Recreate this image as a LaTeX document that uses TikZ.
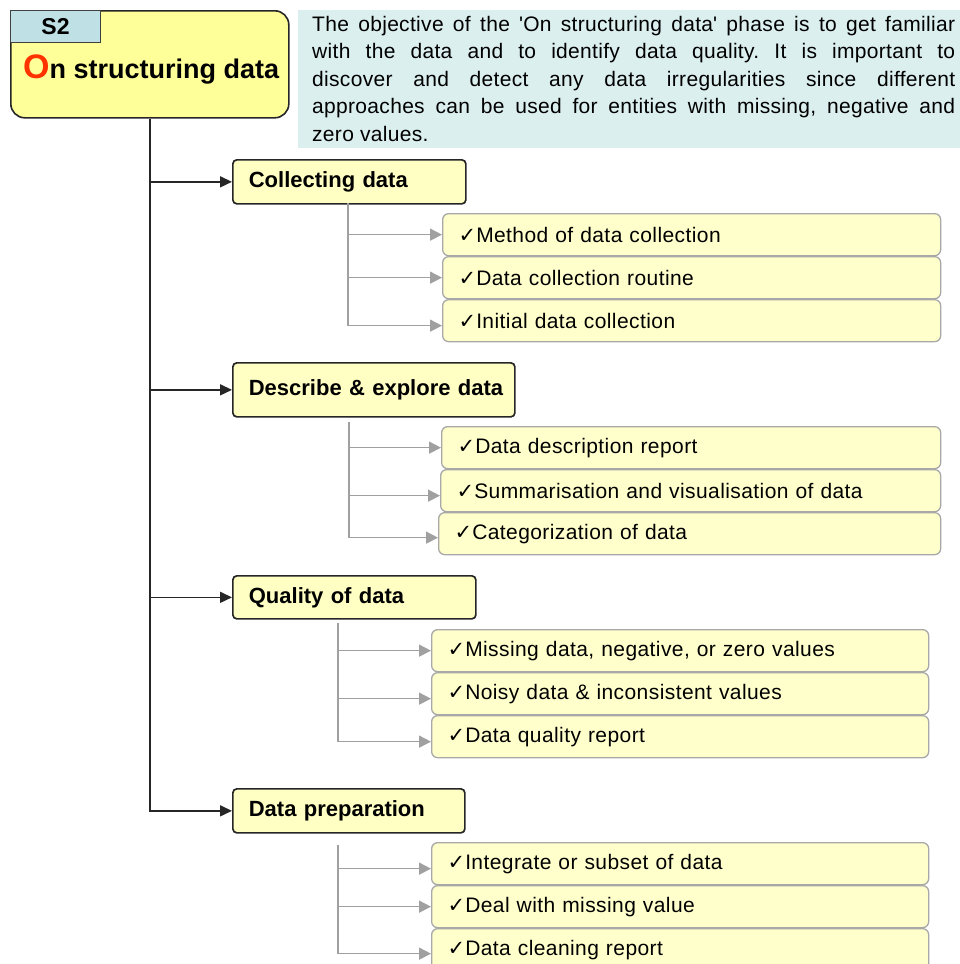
\documentclass[tikz,border=0pt]{standalone}
\usepackage{fontspec}
\setmainfont{Liberation Sans}
\newfontfamily\spacedfont[LetterSpace=2]{Liberation Sans}
\newfontfamily\descfont[LetterSpace=1.5]{Liberation Sans}
\newfontfamily\symfont{DejaVu Sans}
\usetikzlibrary{arrows.meta}

\definecolor{mainfill}{HTML}{FFFF99}
\definecolor{tabfill}{HTML}{BFE1E6}
\definecolor{descfill}{HTML}{DCEFEF}
\definecolor{stepfill}{HTML}{FFFFC4}
\definecolor{itemfill}{HTML}{FFFFCC}
\definecolor{itemline}{HTML}{A8A8A8}
\definecolor{linkgray}{HTML}{A0A0A0}
\definecolor{ored}{HTML}{FF3300}

\newcommand{\tick}{{\symfont\fontsize{21}{21}\selectfont ✓}}

\tikzset{
  mainbox/.style={draw=black!85, line width=1.6pt, fill=mainfill,
    rounded corners=14pt, anchor=north west, inner sep=0pt,
    minimum width=278pt, minimum height=107pt},
  tabbox/.style={draw=black!75, line width=1pt, fill=tabfill,
    anchor=north west, inner sep=0pt, minimum width=90pt, minimum height=32pt,
    font=\bfseries\fontsize{23}{23}\selectfont},
  stepbox/.style={draw=black!85, line width=1.7pt, fill=stepfill,
    rounded corners=4pt, anchor=north west, inner xsep=0pt, inner ysep=0pt,
    align=left, font=\bfseries\fontsize{22}{22}\selectfont},
  itembox/.style={draw=itemline, line width=1.3pt, fill=itemfill,
    rounded corners=6pt, anchor=north west, inner xsep=16pt, inner ysep=0pt,
    minimum height=42pt, align=left, font=\spacedfont\fontsize{21}{21}\selectfont},
  trunk/.style={draw=black!85, line width=1.8pt},
  branch/.style={draw=black!85, line width=1.6pt, -{Triangle[length=12pt,width=11pt]}},
  link/.style={draw=linkgray, line width=1.6pt, -{Triangle[length=12pt,width=12pt]}},
}

\begin{document}
\begin{tikzpicture}[x=1pt,y=-1pt]
\useasboundingbox (0,0) rectangle (960,964);

% phase header
\node[mainbox] (main) at (10,10) {};
\node[tabbox] (tab) at (10,10) {S2};
\node[anchor=base west, inner sep=0pt, font=\bfseries] (title) at (23,78)
  {\textcolor{ored}{\fontsize{34}{34}\selectfont O}\fontsize{27}{27}\selectfont n structuring data};

% phase description
\node[fill=descfill, anchor=north west, inner sep=0pt,
  minimum width=662pt, minimum height=138pt] (descbg) at (298,10) {};
\node[anchor=north west, inner sep=0pt, text width=643pt, align=justify,
  font=\descfont\fontsize{21}{27.5}\selectfont] (desc) at (312,16)
  {\frenchspacing The objective of the \textquotesingle On structuring data\textquotesingle\ phase is to get familiar\linebreak
   with the data and to identify data quality. It is important to\linebreak
   discover and detect any data irregularities since different\linebreak
   approaches can be used for entities with missing, negative and\linebreak
   zero values.};

% main steps
\node[stepbox, text width=233pt, minimum height=44pt] (col)  at (232,159) {\hspace*{16pt}Collecting data};
\node[stepbox, text width=282pt, minimum height=54pt] (desx) at (232,362) {\hspace*{16pt}Describe \& explore data};
\node[stepbox, text width=243pt, minimum height=43pt] (qual) at (232,575) {\hspace*{16pt}Quality of data};
\node[stepbox, text width=232pt, minimum height=44pt] (prep) at (232,788) {\hspace*{16pt}Data preparation};

% trunk and branches
\draw[trunk] (main.south) |- ([xshift=-10pt]prep.west);
\draw[branch] (main.south |- col.west) -- (col.west);
\draw[branch] (main.south |- desx.west) -- (desx.west);
\draw[branch] (main.south |- qual.west) -- (qual.west);
\draw[branch] (main.south |- prep.west) -- (prep.west);

% items: collecting data
\node[itembox, text width=466pt] (c1) at (442,213) {\tick Method of data collection};
\node[itembox, text width=466pt] (c2) at (442,256) {\tick Data collection routine};
\node[itembox, text width=466pt] (c3) at (442,299) {\tick Initial data collection};

% items: describe & explore
\node[itembox, text width=467pt] (d1) at (441,426) {\tick Data description report};
\node[itembox, text width=468pt] (d2) at (440,469) {\tick Summarisation and visualisation of data};
\node[itembox, text width=470pt] (d3) at (438,512) {\tick Categorization of data};

% items: quality
\node[itembox, text width=465pt] (q1) at (431,629) {\tick Missing data, negative, or zero values};
\node[itembox, text width=465pt] (q2) at (431,672) {\tick Noisy data \& inconsistent values};
\node[itembox, text width=465pt] (q3) at (431,715) {\tick Data quality report};

% items: preparation
\node[itembox, text width=465pt] (p1) at (431,842) {\tick Integrate or subset of data};
\node[itembox, text width=465pt] (p2) at (431,885) {\tick Deal with missing value};
\node[itembox, text width=465pt] (p3) at (431,928) {\tick Data cleaning report};

% item links
\coordinate (g1) at (348,203);
\coordinate (g2) at (349,422);
\coordinate (g3) at (338,623);
\coordinate (g4) at (338,845);

\draw[link] (g1) |- (c1.west);
\draw[link] (g1) |- (c2.west);
\draw[link] (g1) |- ([yshift=-5pt]c3.west);

\draw[link] (g2) |- (d1.west);
\draw[link] (g2) |- ([yshift=-5pt]d2.west);
\draw[link] (g2) |- ([yshift=-4pt]d3.west);

\draw[link] (g3) |- (q1.west);
\draw[link] (g3) |- ([yshift=-5pt]q2.west);
\draw[link] (g3) |- ([yshift=-5pt]q3.west);

\draw[link] (g4) |- ([yshift=-5pt]p1.west);
\draw[link] (g4) |- (p2.west);
\draw[link] (g4) |- ([yshift=-4pt]p3.west);
\end{tikzpicture}
\end{document}
